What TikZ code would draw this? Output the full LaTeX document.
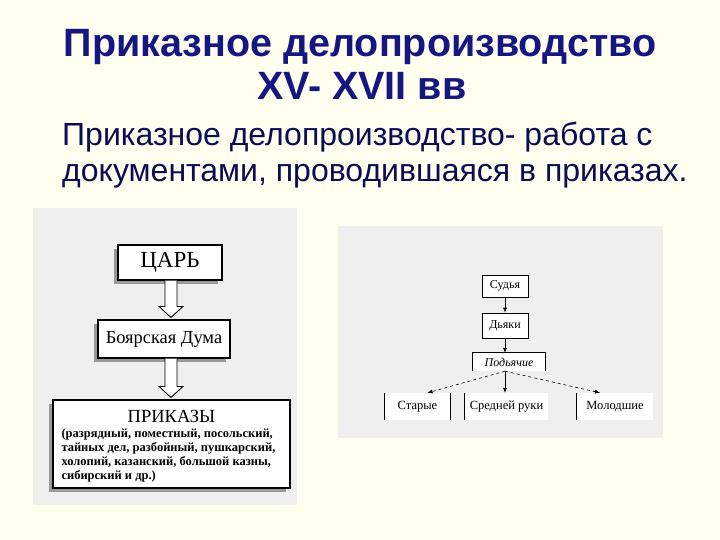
\documentclass[tikz,border=0pt]{standalone}
\usepackage{fontspec}
\setmainfont{Liberation Serif}
\newfontfamily\slidefont{Liberation Sans}
\usetikzlibrary{positioning,calc,shadows,arrows.meta}

\definecolor{slidebg}{RGB}{255,255,240}
\definecolor{panelgray}{RGB}{239,239,239}
\definecolor{titleblue}{RGB}{22,22,130}
\definecolor{textblue}{RGB}{12,12,84}

\tikzset{
  title/.style={anchor=base, inner sep=0pt, text=titleblue,
    font=\slidefont\bfseries\fontsize{39.5}{44}\selectfont},
  lead/.style={anchor=base west, inner sep=0pt, text=textblue,
    font=\slidefont\fontsize{32}{36}\selectfont},
  block/.style={draw, line width=1.1pt, fill=white, inner sep=0pt,
    drop shadow={shadow xshift=-4pt, shadow yshift=-4pt, fill=gray!80, opacity=1}},
  hollow/.style={draw, line width=0.9pt, fill=white},
  rbox/.style={draw, line width=0.7pt, fill=white, inner sep=0pt,
    font=\fontsize{12}{14}\selectfont},
  rank/.style={fill=white, inner sep=0pt, minimum height=27,
    font=\fontsize{12.5}{14}\selectfont},
  link/.style={->, line width=0.6pt},
}

% wide hollow arrow between two blocks, along the spine
\newcommand{\hollowarrow}[2]{%
  \draw[hollow] let \p1=(#1.south -| spine), \p2=(#2.north -| spine) in
    (\x1-6pt,\y1) -- (\x1-6pt,\y2+13pt) -- (\x1-12pt,\y2+13pt) -- (\x1,\y2+2pt)
    -- (\x1+12pt,\y2+13pt) -- (\x1+6pt,\y2+13pt) -- (\x1+6pt,\y1);}

\begin{document}
\begin{tikzpicture}[x=1pt,y=-1pt,>={Latex[length=5pt,width=4pt]}]
  % Slide
  \fill[slidebg] (0,0) rectangle (720,540);
  \useasboundingbox (0,0) rectangle (720,540);

  % Heading
  \node[title] (head1) at (360,57) {Приказное делопроизводство};
  \node[title] (head2) at (362,100) {XV- XVII вв};
  \node[lead] (def1) at (62,146) {Приказное делопроизводство- работа с};
  \node[lead] (def2) at (62,182) {документами, проводившаяся в приказах.};

  % Left scheme
  \fill[panelgray] (33,208) rectangle (297,505);
  \coordinate (spine) at (171,0);
  \node[block, minimum width=104, minimum height=35,
    font=\fontsize{23}{25}\selectfont] (tsar) at (170,262.5) {ЦАРЬ};
  \node[block, minimum width=132, minimum height=38,
    font=\fontsize{18.4}{20}\selectfont] (duma) at (164,339) {Боярская Дума};
  \node[block, minimum width=237, minimum height=88, align=center,
    font=\fontsize{18.5}{19}\selectfont] (prikazy) at (171.5,444)
    {\rule{0pt}{17pt}ПРИКАЗЫ\\[-4pt]
     \parbox[t]{220pt}{\bfseries\fontsize{12.5}{13.8}\selectfont
       (разрядный, поместный, посольский,\\
       тайных дел, разбойный, пушкарский,\\
       холопий, казанский, большой казны,\\
       сибирский и др.)}};
  \hollowarrow{tsar}{duma}
  \hollowarrow{duma}{prikazy}

  % Right scheme
  \fill[panelgray] (338,226) rectangle (663,438);
  \node[rbox, minimum width=46, minimum height=22] (judge) at (505,286) {Судья};
  \node[rbox, minimum width=46, minimum height=25] (clerks) at (505,325.5) {Дьяки};
  \node[fill=white, inner sep=0pt, minimum width=72, minimum height=18,
    font=\itshape\fontsize{12}{14}\selectfont] (pod) at (509,362) {Подьячие};
  \draw[line width=0.7pt] (pod.south west) -- (pod.north west)
    -- (pod.north east) -- (pod.south east);
  \node[rank, minimum width=65] (old) at (417.5,406.5) {Старые};
  \node[rank, minimum width=83] (mid) at (506.5,406.5) {Средней руки};
  \node[rank, minimum width=76] (young) at (615,406.5) {Молодшие};
  \draw[line width=0.7pt] (old.north west) -- (old.south west);
  \draw[line width=0.7pt] (old.north east) -- (old.south east);
  \draw[line width=0.7pt] (mid.north west) -- (mid.south west);
  \draw[line width=0.7pt] (young.north west) -- (young.south west);

  \coordinate (fork) at ([xshift=-4pt]pod.south);
  \draw[link] (judge) -- (clerks);
  \draw[link] (clerks.south) -- (clerks.south |- pod.north);
  \draw[link, dashed] (fork) -- ([xshift=10pt]old.north);
  \draw[link] (fork) -- (fork |- mid.north);
  \draw[link, dashed] (fork) -- ([xshift=-15pt]young.north);
\end{tikzpicture}
\end{document}
